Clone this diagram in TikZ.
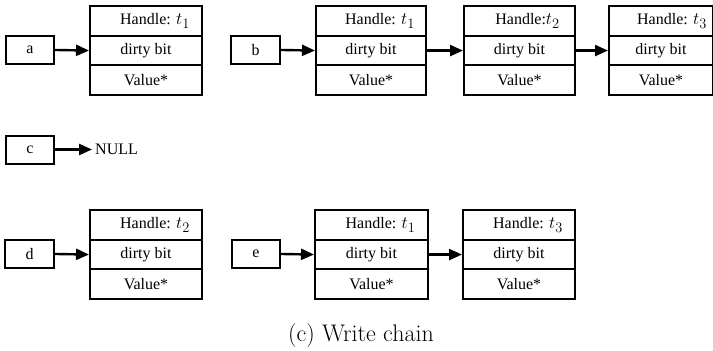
\documentclass[tikz,border=0pt]{standalone}
\usepackage{fontspec}
\newfontfamily\tnr{Liberation Serif}
\usetikzlibrary{arrows.meta}
\newcommand\tv[1]{{\fontsize{19}{20}\selectfont$t_{#1}$}}
\tikzset{
  boxfont/.style={font=\tnr\fontsize{16}{18}\selectfont},
  cell/.style={draw, line width=2pt, minimum height=29.7pt, inner sep=0pt, anchor=north west, boxfont},
  ptrbox/.style={draw, line width=2pt, minimum width=48pt, minimum height=28pt, inner sep=0pt, boxfont},
  arr/.style={line width=2.4pt, -{Triangle[length=13pt,width=11pt]}},
}
\newcommand\mkstruct[5]{%
  \node[cell, minimum width=#4pt] (#1h) at (#2,#3) {#5};
  \node[cell, minimum width=#4pt] (#1d) at (#2,#3+29.7) {dirty bit};
  \node[cell, minimum width=#4pt] (#1v) at (#2,#3+59.4) {Value*};
}
\begin{document}
\begin{tikzpicture}[x=1pt,y=-1pt]
\useasboundingbox (0,0) rectangle (713,351);
% row 1
\node[ptrbox] (a) at (30,49.55) {a};
\mkstruct{a1}{89}{5}{112}{\hspace*{18pt}Handle: \tv1}
\draw[arr] (a) -- (a1d.west);
\node[ptrbox, minimum width=49pt] (b) at (255.5,49.55) {b};
\mkstruct{b1}{315}{5}{110}{\hspace*{18pt}Handle: \tv1}
\mkstruct{b2}{463}{5}{111}{\hspace*{16pt}Handle:\tv2}
\mkstruct{b3}{608}{5}{104}{\hspace*{22pt}Handle: \tv3}
\draw[arr] (b) -- (b1d.west);
\draw[arr] (b1d) -- (b2d.west);
\draw[arr] (b2d) -- (b3d.west);
% row 2
\node[ptrbox] (c) at (30,149.5) {c};
\node[anchor=west, inner sep=3pt, boxfont] (null) at (92,149.5) {NULL};
\draw[arr] (c) -- (null.west);
% row 3
\node[ptrbox, minimum width=49pt] (d) at (29.5,253.55) {d};
\mkstruct{d1}{89}{209}{112}{\hspace*{18pt}Handle: \tv2}
\draw[arr] (d) -- (d1d.west);
\node[ptrbox] (e) at (256,253.55) {e};
\mkstruct{e1}{314}{209}{113}{\hspace*{18pt}Handle: \tv1}
\mkstruct{e2}{462}{209}{112}{\hspace*{18pt}Handle: \tv3}
\draw[arr] (e) -- (e1d.west);
\draw[arr] (e1d) -- (e2d.west);
% caption
\node[anchor=base, inner sep=0pt, font=\fontsize{24}{28}\selectfont] (caption) at (361,341) {(c) Write chain};
\end{tikzpicture}
\end{document}
